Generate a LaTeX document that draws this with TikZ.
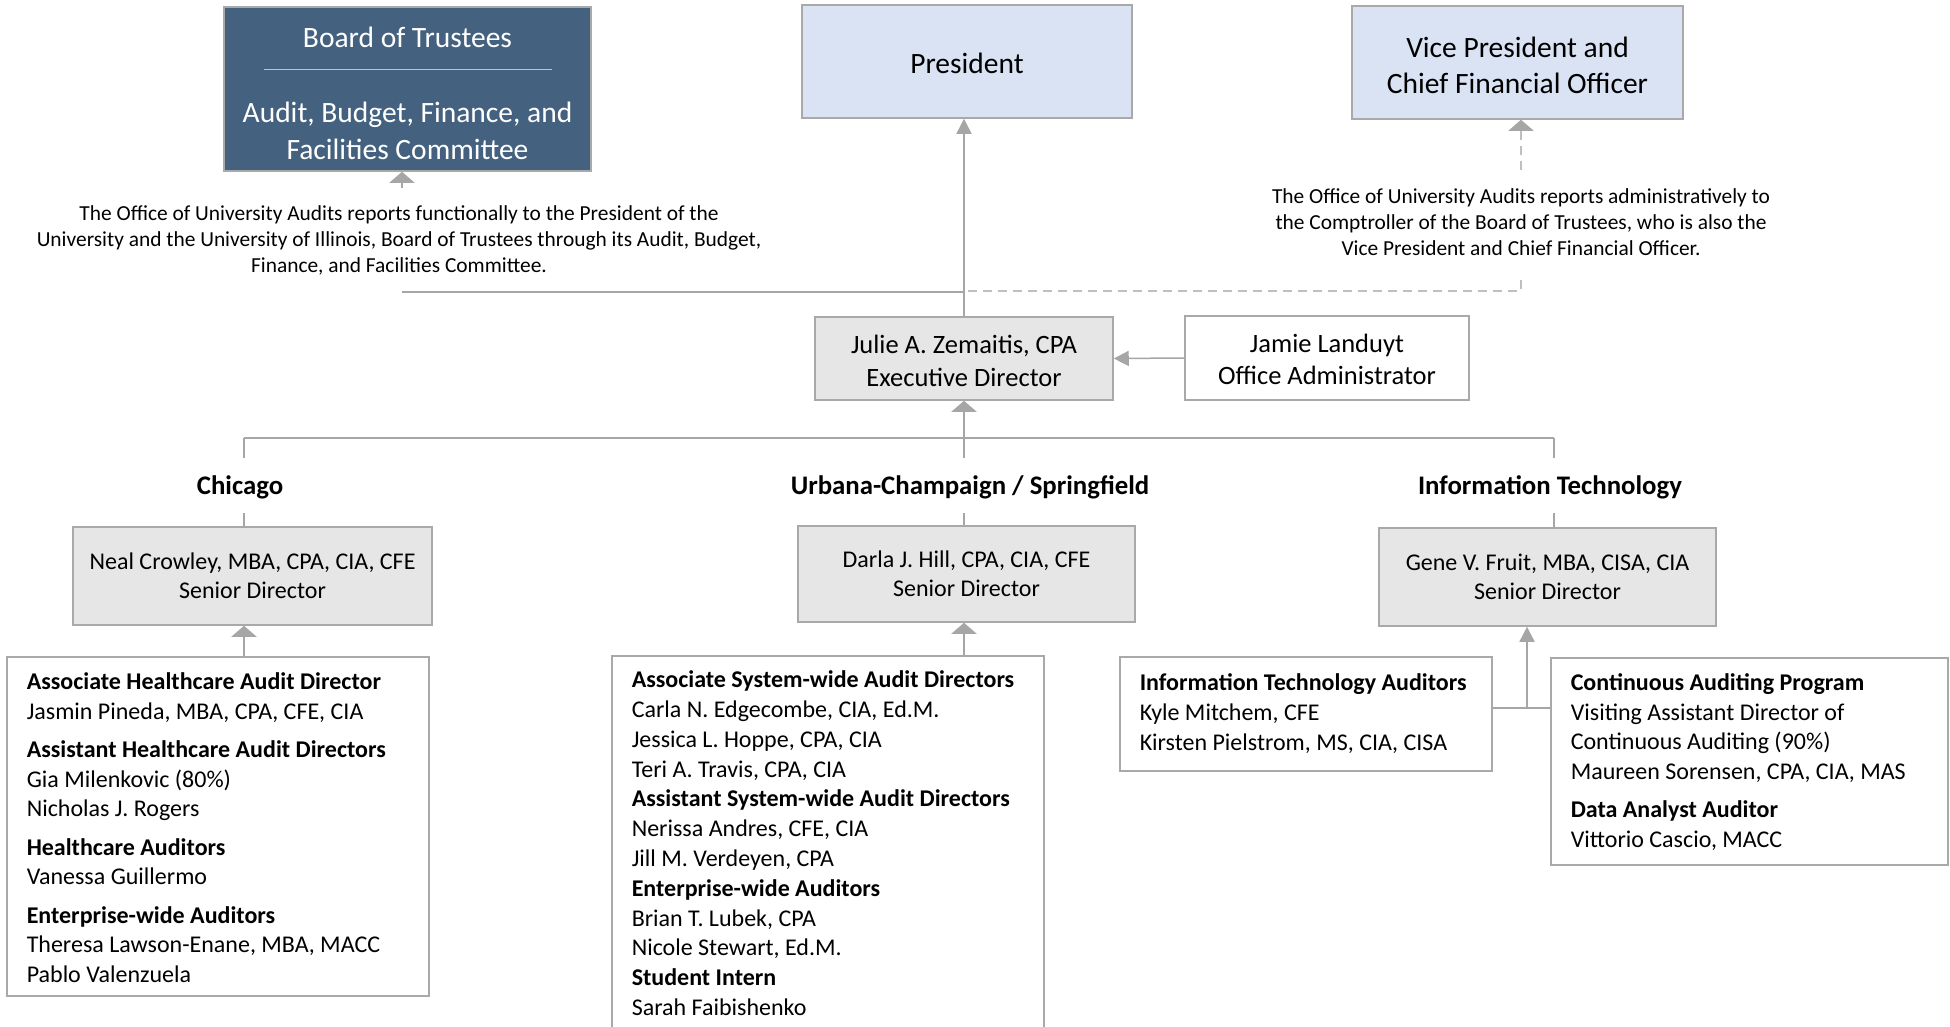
\documentclass[tikz,border=0pt]{standalone}
\usepackage{fontspec}
\setmainfont{Carlito}
\usetikzlibrary{arrows.meta}
\definecolor{boardblue}{HTML}{44627F}
\definecolor{presblue}{HTML}{DAE3F3}
\definecolor{sdgray}{HTML}{E7E6E6}
\definecolor{lncol}{HTML}{A6A6A6}
\definecolor{bordcol}{HTML}{A9A9A9}
\definecolor{dashcol}{HTML}{BFBFBF}
\definecolor{rulecol}{HTML}{B8C4D0}
\newcommand{\hd}[1]{\mbox{\bfseries #1}}
\newcommand{\nm}[1]{\mbox{#1}}
\newcommand{\tall}[1]{\rule{0pt}{#1}}
\begin{document}
\begin{tikzpicture}[x=1pt,y=-1pt,
  every node/.style={inner sep=0pt},
  conn/.style={draw=lncol, line width=1.5pt},
  dconn/.style={draw=dashcol, line width=1.5pt, dash pattern=on 9pt off 6pt},
  wtip/.style={-{Triangle[width=25pt,length=11pt,color=lncol]}},
  ntip/.style={-{Triangle[width=15pt,length=15pt,color=lncol]}},
  topbox/.style={draw=bordcol, line width=1.5pt, fill=presblue, align=center,
    font=\fontsize{29.5}{36.5}\selectfont},
  boardbox/.style={draw=bordcol, line width=1.5pt, fill=boardblue, text=white,
    align=center, font=\fontsize{29.5}{37.5}\selectfont},
  execbox/.style={draw=bordcol, line width=1.5pt, fill=sdgray, align=center,
    font=\fontsize{26.5}{33}\selectfont},
  adminbox/.style={draw=bordcol, line width=1.5pt, fill=white, align=center,
    font=\fontsize{26.5}{31.5}\selectfont},
  sdbox/.style={draw=bordcol, line width=1.5pt, fill=sdgray, align=center,
    font=\fontsize{24}{29}\selectfont},
  listbox/.style={draw=bordcol, line width=1.5pt, fill=white, anchor=north west,
    inner xsep=20pt, inner ysep=12.5pt, font=\fontsize{24}{29.5}\selectfont},
  grp/.style={fill=white, font=\fontsize{26.8}{30}\selectfont\bfseries,
    text height=24pt, text depth=5pt, inner ysep=13pt, inner xsep=4pt},
  note/.style={align=center, font=\fontsize{21.4}{26}\selectfont}
]
\fill[white] (0,0) rectangle (1950,1026);
\useasboundingbox (0,0) rectangle (1950,1026);
\clip (0,0) rectangle (1950,1026);

% top row
\node[boardbox, minimum width=367pt, minimum height=164pt] (board) at (407.5,89)
  {\tall{29pt}Board of Trustees\\ \textcolor{rulecol}{\rule[15pt]{288pt}{1pt}}\\ Audit, Budget, Finance, and\\ Facilities Committee};
\node[topbox, minimum width=330pt, minimum height=113pt] (president) at (967,61.5) {\tall{24pt}President};
\node[topbox, minimum width=331pt, minimum height=113pt] (vp) at (1517.5,62.5)
  {\tall{26pt}Vice President and\\ Chief Financial Officer};

% notes
\node[note] (note1) at (399,240) {The Office of University Audits reports functionally to the President of the\\
University and the University of Illinois, Board of Trustees through its Audit, Budget,\\
Finance, and Facilities Committee.};
\node[note] (note2) at (1521,222) {The Office of University Audits reports administratively to\\
the Comptroller of the Board of Trustees, who is also the\\
Vice President and Chief Financial Officer.};

% executive row
\node[execbox, minimum width=298pt, minimum height=83pt] (julie) at (964,358.5)
  {\tall{24pt}Julie A. Zemaitis, CPA\\ Executive Director};
\node[adminbox, minimum width=284pt, minimum height=84pt] (jamie) at (1327,358)
  {\tall{21pt}Jamie Landuyt\\ Office Administrator};

% senior directors
\node[sdbox, minimum width=359pt, minimum height=98pt] (neal) at (252.5,576)
  {Neal Crowley, MBA, CPA, CIA, CFE\\ Senior Director};
\node[sdbox, minimum width=337pt, minimum height=96pt] (darla) at (966.5,574)
  {Darla J. Hill, CPA, CIA, CFE\\ Senior Director};
\node[sdbox, minimum width=337pt, minimum height=98pt] (gene) at (1547.5,577)
  {Gene V. Fruit, MBA, CISA, CIA\\ Senior Director};

% staff lists
\node[listbox] (chilist) at (6,656) {\parbox[t][314pt][t]{382pt}{\strut\hd{Associate Healthcare Audit Director}\\
\nm{Jasmin Pineda, MBA, CPA, CFE, CIA}\\[9pt]
\hd{Assistant Healthcare Audit Directors}\\
\nm{Gia Milenkovic (80\%)}\\
\nm{Nicholas J. Rogers}\\[9pt]
\hd{Healthcare Auditors}\\
\nm{Vanessa Guillermo}\\[9pt]
\hd{Enterprise-wide Auditors}\\
\nm{Theresa Lawson-Enane, MBA, MACC}\\
\nm{Pablo Valenzuela}}};

\node[listbox, font=\fontsize{24}{29.8}\selectfont, inner ysep=11pt] (ucslist) at (611,655) {\parbox[t][383pt][t]{392pt}{\strut\hd{Associate System-wide Audit Directors}\\
\nm{Carla N. Edgecombe, CIA, Ed.M.}\\
\nm{Jessica L. Hoppe, CPA, CIA}\\
\nm{Teri A. Travis, CPA, CIA}\\
\hd{Assistant System-wide Audit Directors}\\
\nm{Nerissa Andres, CFE, CIA}\\
\nm{Jill M. Verdeyen, CPA}\\
\hd{Enterprise-wide Auditors}\\
\nm{Brian T. Lubek, CPA}\\
\nm{Nicole Stewart, Ed.M.}\\
\hd{Student Intern}\\
\nm{Sarah Faibishenko}}};

\node[listbox, font=\fontsize{24}{30}\selectfont, inner ysep=13pt] (itaud) at (1119,656) {\parbox[t][88pt][t]{332pt}{\strut\hd{Information Technology Auditors}\\
\nm{Kyle Mitchem, CFE}\\
\nm{Kirsten Pielstrom, MS, CIA, CISA}}};

\node[listbox] (cont) at (1550,657) {\parbox[t][182pt][t]{357pt}{\strut\hd{Continuous Auditing Program}\\
\nm{Visiting Assistant Director of}\\
\nm{Continuous Auditing (90\%)}\\
\nm{Maureen Sorensen, CPA, CIA, MAS}\\[9pt]
\hd{Data Analyst Auditor}\\
\nm{Vittorio Cascio, MACC}}};

% helper coordinates
\coordinate (n1top) at (402,188);
\coordinate (n1bot) at (402,292);
\coordinate (n2top) at (1521,170);
\coordinate (n2bot) at (1521,278);
\coordinate (dstart) at (968,291);
\coordinate (busL) at (244,438);
\coordinate (busR) at (1554,438);
\coordinate (itj) at (1527,708);

% connectors to top row
\draw[conn, wtip] (n1top) -- (n1top |- board.south);
\draw[conn] (n1bot) -- (n1bot -| julie.north);
\draw[conn, ntip] (julie.north) -- (julie.north |- president.south);
\draw[dconn] (dstart) -- (dstart -| n2bot) -- (n2bot);
\draw[dconn, wtip] (n2top) -- (n2top |- vp.south);

% admin
\draw[conn, ntip] (jamie.west) -- (julie.east);

% bus
\draw[conn] (busL) -- (busR);
\draw[conn, wtip] (julie.south |- busL) -- (julie.south);
\draw[conn] (busL) -- (busL |- neal.north);
\draw[conn] (julie.south |- busL) -- (julie.south |- darla.north);
\draw[conn] (busR) -- (busR |- gene.north);

% lists to senior directors
\draw[conn, wtip] (busL |- chilist.north) -- (busL |- neal.south);
\draw[conn, wtip] (julie.south |- ucslist.north) -- (julie.south |- darla.south);
\draw[conn] (itaud.east |- itj) -- (cont.west |- itj);
\draw[conn, ntip] (itj) -- (itj |- gene.south);

% group labels
\node[grp] (chic) at (240,485) {Chicago};
\node[grp] (ucs) at (970,485) {Urbana-Champaign / Springfield};
\node[grp] (itl) at (1550,485) {Information Technology};
\end{tikzpicture}
\end{document}
